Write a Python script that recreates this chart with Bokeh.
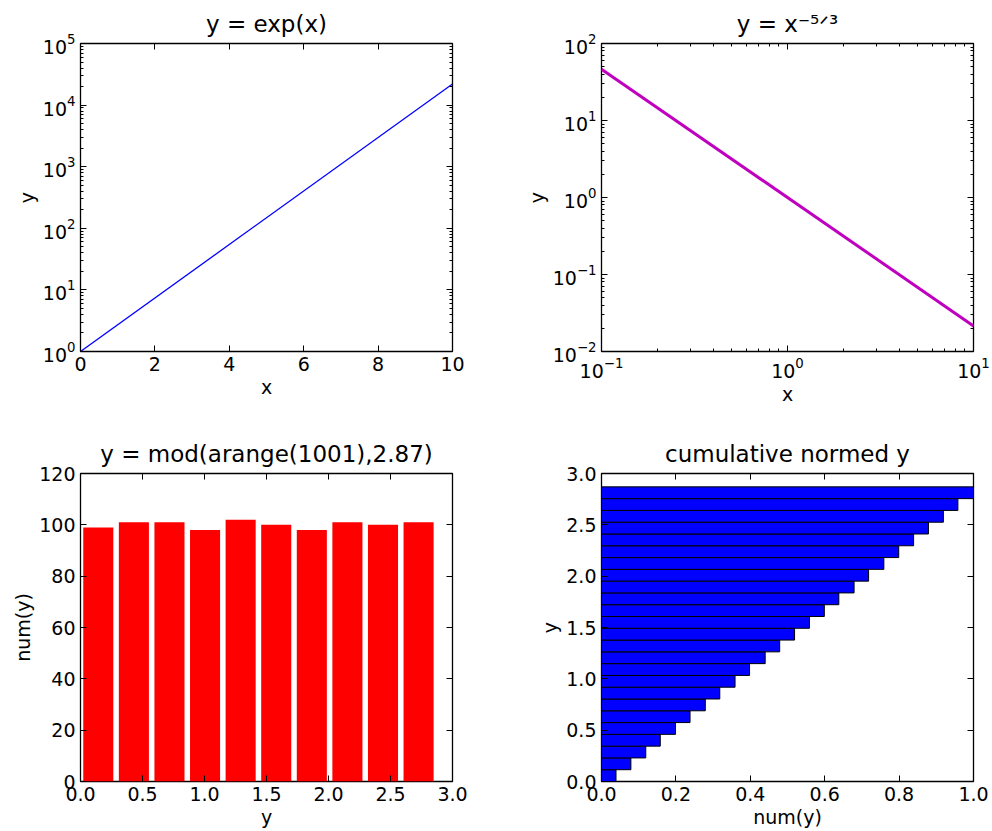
import numpy as np
from bokeh.plotting import figure
from bokeh.models import (Range1d, FixedTicker, LinearAxis, LogAxis,
                          LogTickFormatter, PrintfTickFormatter, CustomJSTickFormatter)
from bokeh.layouts import column, row
from bokeh.embed import file_html
from bokeh.resources import INLINE

FONT = "DejaVu Sans"

# ---------------- data ----------------
exp_x = [0.0, 10.0]
exp_y = [1.0, 22026.0]

pow_x = [0.1, 10.0]
pow_y = [46.4, 0.0215]

hist_counts = [99, 101, 101, 98, 102, 100, 98, 101, 100, 101]
hist_max = 2.87

cum_frac = [0.039, 0.079, 0.119, 0.158, 0.199, 0.238, 0.279, 0.318, 0.359,
            0.398, 0.440, 0.479, 0.519, 0.559, 0.599, 0.638, 0.679, 0.718,
            0.759, 0.799, 0.839, 0.879, 0.919, 0.958, 1.0]

titles = ["y = exp(x)", "y = x\u207b\u2075\u141f\u00b3",
          "y = mod(arange(1001),2.87)", "cumulative normed y"]

x1_ticks = [0, 2, 4, 6, 8, 10]
y1_ticks = [1, 10, 100, 1000, 10000, 100000]
x2_ticks = [0.1, 1, 10]
y2_ticks = [0.01, 0.1, 1, 10, 100]
x3_ticks = [0.0, 0.5, 1.0, 1.5, 2.0, 2.5, 3.0]
y3_ticks = [0, 20, 40, 60, 80, 100, 120]
x4_ticks = [0.0, 0.2, 0.4, 0.6, 0.8, 1.0]
y4_ticks = [0.0, 0.5, 1.0, 1.5, 2.0, 2.5, 3.0]


def log_minors(lo_exp, hi_exp):
    return [m * 10.0 ** k for k in range(lo_exp, hi_exp) for m in range(2, 10)]


def style_axis(ax, ticks, formatter, minor=None, labels=True):
    ax.ticker = FixedTicker(ticks=ticks, minor_ticks=minor or [])
    ax.formatter = formatter if labels else CustomJSTickFormatter(code="return ''")
    ax.axis_line_color = None
    ax.major_tick_in = 6
    ax.major_tick_out = 0
    ax.minor_tick_in = 3
    ax.minor_tick_out = 0
    ax.major_tick_line_color = "black"
    ax.minor_tick_line_color = "black" if minor else None
    ax.major_label_text_font = FONT
    ax.major_label_text_font_size = "19px" if labels else "1px"
    ax.major_label_text_color = "black"
    ax.major_label_standoff = 5 if labels else 0
    ax.axis_label_text_font = FONT
    ax.axis_label_text_font_size = "19px"
    ax.axis_label_text_font_style = "normal"
    ax.axis_label_text_color = "black"
    ax.axis_label_standoff = 2


def make_fig(w, h, xr, yr, borders, title, x_type="linear", y_type="linear"):
    l, r, t, b = borders
    p = figure(width=w, height=h, x_range=xr, y_range=yr,
               x_axis_type=x_type, y_axis_type=y_type, title=title,
               output_backend="svg", toolbar_location=None,
               min_border_left=l, min_border_right=r,
               min_border_top=t, min_border_bottom=b)
    p.title.align = "center"
    p.title.text_font = FONT
    p.title.text_font_size = "23px"
    p.title.text_font_style = "normal"
    p.title.text_color = "black"
    p.title.standoff = 14
    p.xgrid.visible = False
    p.ygrid.visible = False
    p.outline_line_color = "black"
    p.outline_line_width = 1.3
    p.outline_line_alpha = 1.0
    p.background_fill_color = "white"
    p.border_fill_color = "white"
    return p


def add_mirrors(p, xt, yt, xminor, yminor, x_log=False, y_log=False):
    top = LogAxis() if x_log else LinearAxis()
    right = LogAxis() if y_log else LinearAxis()
    style_axis(top, xt, None, xminor, labels=False)
    style_axis(right, yt, None, yminor, labels=False)
    p.add_layout(top, "above")
    p.add_layout(right, "right")


# ---------------- top-left: exp ----------------
p1 = make_fig(496, 415, Range1d(0, 10), Range1d(1, 1e5), (80, 44, 43, 64), titles[0],
              y_type="log")
p1.line(exp_x, exp_y, line_color="blue", line_width=1.3)
y1_minor = log_minors(0, 5)
style_axis(p1.xaxis[0], x1_ticks, PrintfTickFormatter(format="%d"))
style_axis(p1.yaxis[0], y1_ticks, LogTickFormatter(), y1_minor)
p1.xaxis[0].axis_label = "x"
p1.yaxis[0].axis_label = "y"
add_mirrors(p1, x1_ticks, y1_ticks, None, y1_minor, y_log=True)

# ---------------- top-right: power law ----------------
p2 = make_fig(496, 415, Range1d(0.1, 10), Range1d(0.01, 100), (105, 19, 43, 64), titles[1],
              x_type="log", y_type="log")
p2.line(pow_x, pow_y, line_color="#BF00BF", line_width=3)
x2_minor = log_minors(-1, 1)
y2_minor = log_minors(-2, 2)
style_axis(p2.xaxis[0], x2_ticks, LogTickFormatter(), x2_minor)
style_axis(p2.yaxis[0], y2_ticks, LogTickFormatter(), y2_minor)
p2.xaxis[0].axis_label = "x"
p2.yaxis[0].axis_label = "y"
add_mirrors(p2, x2_ticks, y2_ticks, x2_minor, y2_minor, x_log=True, y_log=True)

# ---------------- bottom-left: histogram ----------------
p3 = make_fig(496, 416, Range1d(0, 3), Range1d(0, 120), (80, 44, 58, 50), titles[2])
n_bins3 = len(hist_counts)
w3 = hist_max / n_bins3
centers3 = [(i + 0.5) * w3 for i in range(n_bins3)]
p3.vbar(x=centers3, top=hist_counts, bottom=0, width=w3 * 0.845,
        fill_color="#FF0000", line_color=None)
style_axis(p3.xaxis[0], x3_ticks, PrintfTickFormatter(format="%.1f"))
style_axis(p3.yaxis[0], y3_ticks, PrintfTickFormatter(format="%d"))
p3.xaxis[0].axis_label = "y"
p3.yaxis[0].axis_label = "num(y)"
add_mirrors(p3, x3_ticks, y3_ticks, None, None)

# ---------------- bottom-right: cumulative ----------------
p4 = make_fig(496, 416, Range1d(0, 1), Range1d(0, 3), (105, 19, 58, 50), titles[3])
n_bins4 = len(cum_frac)
edges4 = np.linspace(0, hist_max, n_bins4 + 1)
p4.hbar(y=(edges4[:-1] + edges4[1:]) / 2, right=cum_frac, left=0,
        height=hist_max / n_bins4, fill_color="#0000FF", line_color="black",
        line_width=1)
style_axis(p4.xaxis[0], x4_ticks, PrintfTickFormatter(format="%.1f"))
style_axis(p4.yaxis[0], y4_ticks, PrintfTickFormatter(format="%.1f"))
p4.xaxis[0].axis_label = "num(y)"
p4.yaxis[0].axis_label = "y"
add_mirrors(p4, x4_ticks, y4_ticks, None, None)

layout = column(row(p1, p2), row(p3, p4))
open("out.html", "w").write(file_html(layout, INLINE))
